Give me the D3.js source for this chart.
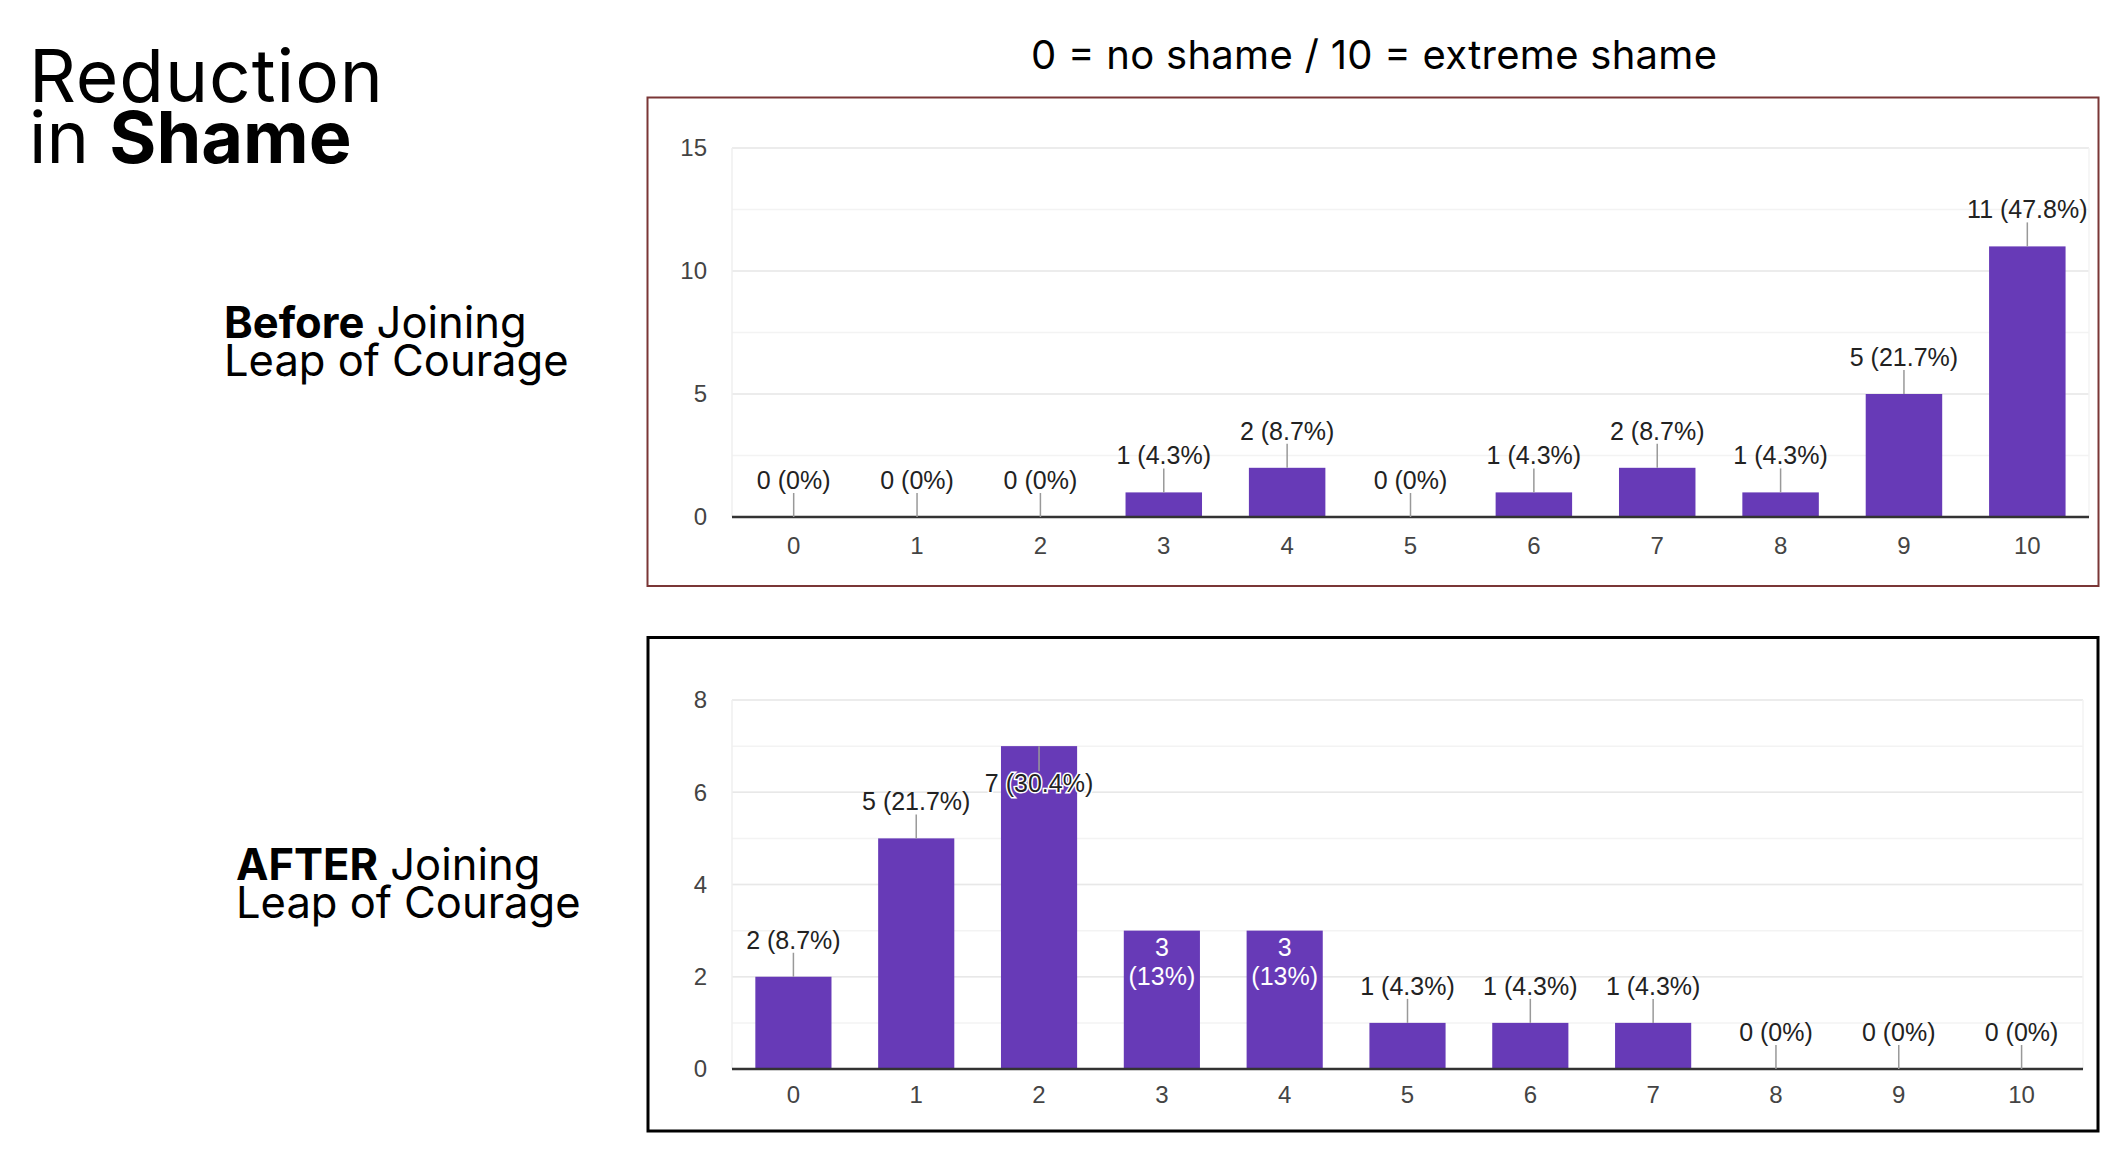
<!doctype html>
<html lang="en">
<head>
  <meta charset="utf-8">
  <title>Reduction in Shame</title>
  <style>
  body { margin: 0; background: #fff; }
  .title { font-family: Inter, "Noto Sans", sans-serif; fill: #000; }
  .chart text { font-family: "Liberation Sans", Arial, sans-serif; }
  .tick text { fill: #444; font-size: 24px; }
  </style>
</head>
<body>
  <div id="chart"></div>
  <script src="https://cdn.jsdelivr.net/npm/d3@7/dist/d3.min.js"></script>
  <script>
// values
var categories = ["0", "1", "2", "3", "4", "5", "6", "7", "8", "9", "10"];
var beforeCounts = [0, 0, 0, 1, 2, 0, 1, 2, 1, 5, 11];
var beforePct = ["0%", "0%", "0%", "4.3%", "8.7%", "0%", "4.3%", "8.7%", "4.3%", "21.7%", "47.8%"];
var afterCounts = [2, 5, 7, 3, 3, 1, 1, 1, 0, 0, 0];
var afterPct = ["8.7%", "21.7%", "30.4%", "13%", "13%", "4.3%", "4.3%", "4.3%", "0%", "0%", "0%"];
var beforeTicks = [0, 5, 10, 15];
var afterTicks = [0, 2, 4, 6, 8];

(function() {
  var width = 2124, height = 1162;
  var purple = "#673ab7";
  var annSize = "25px";

  var svg = d3.select("#chart").append("svg")
      .attr("width", width)
      .attr("height", height);

  // headings (widths fitted to the reference lettering)
  svg.append("text").attr("class", "title")
      .attr("x", 29).attr("y", 102).style("font-size", "73px")
      .attr("textLength", 354).attr("lengthAdjust", "spacing")
      .text("Reduction");
  var t2 = svg.append("text").attr("class", "title")
      .attr("x", 29).attr("y", 163).style("font-size", "72px");
  t2.append("tspan").text("in ");
  t2.append("tspan").style("font-weight", 700).text("Shame");

  svg.append("text").attr("class", "title")
      .attr("x", 1031).attr("y", 69)
      .style("font-size", "40px")
      .attr("textLength", 686).attr("lengthAdjust", "spacing")
      .text("0 = no shame / 10 = extreme shame");

  function sideLabel(x, y, bold) {
    var a = svg.append("text").attr("class", "title")
        .attr("x", x).attr("y", y).style("font-size", "43.5px");
    a.append("tspan").style("font-weight", 700).text(bold);
    a.append("tspan").text(" Joining");
    svg.append("text").attr("class", "title")
        .attr("x", x).attr("y", y + 38).style("font-size", "43.5px")
        .text("Leap of Courage");
  }
  sideLabel(224, 338, "Before");
  sideLabel(236, 880, "AFTER");

  function drawChart(cfg) {
    var g = svg.append("g").attr("class", "chart");

    // frame
    g.append("rect")
        .attr("x", cfg.box[0]).attr("y", cfg.box[1])
        .attr("width", cfg.box[2] - cfg.box[0]).attr("height", cfg.box[3] - cfg.box[1])
        .attr("fill", "none")
        .attr("stroke", cfg.boxColor)
        .attr("stroke-width", cfg.boxWidth);

    var x = d3.scaleBand()
        .domain(categories)
        .range([cfg.left, cfg.right])
        .paddingInner(0.38)
        .paddingOuter(0.19);
    var y = d3.scaleLinear()
        .domain([0, cfg.yMax])
        .range([cfg.bottom, cfg.top]);

    // minor + major gridlines
    var minor = d3.range(0, cfg.yMax + 0.001, cfg.minorStep);
    g.selectAll(".minor").data(minor).enter().append("line")
        .attr("x1", cfg.left).attr("x2", cfg.right)
        .attr("y1", function(d) { return y(d); })
        .attr("y2", function(d) { return y(d); })
        .attr("stroke", "#f3f3f3").attr("stroke-width", 1.5);
    g.selectAll(".major").data(cfg.ticks).enter().append("line")
        .attr("x1", cfg.left).attr("x2", cfg.right)
        .attr("y1", function(d) { return y(d); })
        .attr("y2", function(d) { return y(d); })
        .attr("stroke", "#e8e8e8").attr("stroke-width", 1.5);
    g.append("line")
        .attr("x1", cfg.left).attr("x2", cfg.left)
        .attr("y1", cfg.top).attr("y2", cfg.bottom)
        .attr("stroke", "#efefef").attr("stroke-width", 1.5);
    g.append("line")
        .attr("x1", cfg.right).attr("x2", cfg.right)
        .attr("y1", cfg.top).attr("y2", cfg.bottom)
        .attr("stroke", "#f3f3f3").attr("stroke-width", 1.5);

    // axes
    var yAxis = g.append("g")
        .attr("transform", "translate(" + cfg.left + ",0)")
        .call(d3.axisLeft(y).tickValues(cfg.ticks).tickSize(0).tickPadding(25).tickFormat(d3.format("d")));
    yAxis.select(".domain").remove();
    yAxis.selectAll("text").attr("dy", "0.33em");

    var xAxis = g.append("g")
        .attr("transform", "translate(0," + cfg.bottom + ")")
        .call(d3.axisBottom(x).tickSize(0).tickPadding(cfg.xPad));
    xAxis.select(".domain").remove();

    // bars
    g.selectAll(".bar").data(cfg.counts).enter().append("rect")
        .attr("x", function(d, i) { return x(categories[i]); })
        .attr("y", function(d) { return y(d); })
        .attr("width", x.bandwidth())
        .attr("height", function(d) { return cfg.bottom - y(d); })
        .attr("fill", purple);

    // baseline
    g.append("line")
        .attr("x1", cfg.left).attr("x2", cfg.right)
        .attr("y1", cfg.bottom).attr("y2", cfg.bottom)
        .attr("stroke", "#333").attr("stroke-width", 2.5);

    // annotations
    cfg.counts.forEach(function(v, i) {
      var cx = x(categories[i]) + x.bandwidth() / 2;
      var top = y(v);
      var mode = cfg.annot[i] || "above";
      var label = v + " (" + cfg.pcts[i] + ")";
      if (mode === "inside") {
        g.append("text").attr("x", cx).attr("y", top + 25)
            .attr("text-anchor", "middle").attr("fill", "#fff")
            .style("font-size", annSize).text(v);
        g.append("text").attr("x", cx).attr("y", top + 54)
            .attr("text-anchor", "middle").attr("fill", "#fff")
            .style("font-size", annSize).text("(" + cfg.pcts[i] + ")");
      } else if (mode === "below") {
        g.append("line").attr("x1", cx).attr("x2", cx)
            .attr("y1", top).attr("y2", top + 25)
            .attr("stroke", "#999").attr("stroke-width", 1.5);
        g.append("text").attr("x", cx).attr("y", top + 46)
            .attr("text-anchor", "middle").attr("fill", "#222")
            .attr("stroke", "#fff").attr("stroke-width", 3)
            .attr("paint-order", "stroke")
            .style("font-size", annSize).text(label);
      } else {
        g.append("line").attr("x1", cx).attr("x2", cx)
            .attr("y1", top - 24).attr("y2", top)
            .attr("stroke", "#999").attr("stroke-width", 1.5);
        g.append("text").attr("x", cx).attr("y", top - 28)
            .attr("text-anchor", "middle").attr("fill", "#222")
            .style("font-size", annSize).text(label);
      }
    });
  }

  drawChart({
    counts: beforeCounts, pcts: beforePct, ticks: beforeTicks,
    yMax: 15, minorStep: 2.5, xPad: 20,
    left: 732, right: 2089, top: 148, bottom: 517,
    box: [647.5, 97.5, 2098.5, 586], boxColor: "#7a3636", boxWidth: 2,
    annot: {}
  });

  drawChart({
    counts: afterCounts, pcts: afterPct, ticks: afterTicks,
    yMax: 8, minorStep: 1, xPad: 17,
    left: 732, right: 2083, top: 700, bottom: 1069,
    box: [648, 637.5, 2098, 1131], boxColor: "#000", boxWidth: 3,
    annot: {2: "below", 3: "inside", 4: "inside"}
  });
})();
  </script>
</body>
</html>
